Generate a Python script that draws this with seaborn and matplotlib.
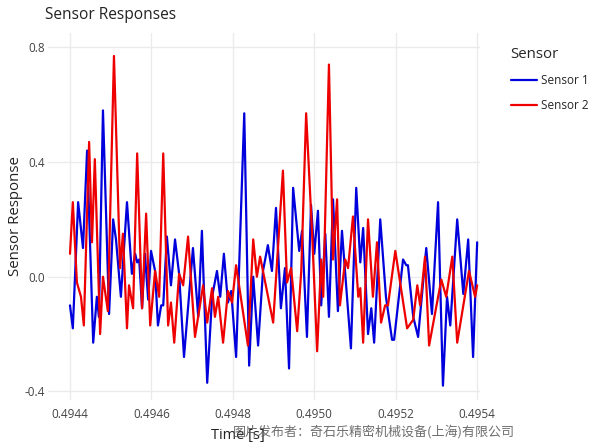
import numpy as np
import matplotlib
matplotlib.use("Agg")
import matplotlib.pyplot as plt
import pandas as pd
import seaborn as sns

# time offsets in microseconds after 0.4944 s
t0 = 0.4944
s1_us = [0, 7, 20, 32, 42, 57, 66, 71, 81, 96,
         106, 113, 125, 140, 152, 160, 165, 170, 177, 184,
         192, 199, 209, 216, 224, 229, 238, 248, 258, 268,
         280, 302, 315, 324, 337, 349, 361, 369, 378, 388,
         396, 408, 428, 440, 450, 462, 474, 486, 496, 506,
         518, 528, 538, 548, 563, 570, 582, 592, 600, 609,
         617, 627, 636, 646, 658, 668, 690, 703, 713, 720,
         732, 740, 747, 762, 776, 791, 796, 818, 826, 830,
         843, 855, 875, 889, 904, 916, 926, 934, 951, 966,
         978, 990, 1000]
s1_val = [-0.10, -0.18, 0.26, 0.10, 0.44, -0.23, -0.07, -0.14, 0.58, -0.13,
          0.20, 0.13, -0.07, 0.26, 0.01, 0.08, 0.05, 0.06, -0.11, 0.08,
          -0.08, 0.09, 0.02, -0.17, -0.10, -0.10, 0.14, -0.03, 0.13, 0.01,
          -0.28, 0.10, -0.14, 0.16, -0.37, -0.07, 0.02, -0.07, 0.08, -0.09,
          -0.05, -0.28, 0.57, -0.31, 0.00, -0.24, 0.02, 0.11, 0.02, 0.24,
          -0.11, 0.03, -0.32, 0.31, 0.09, 0.16, -0.21, 0.25, 0.08, 0.23,
          -0.10, 0.15, -0.14, 0.27, -0.12, 0.16, -0.25, 0.31, 0.05, 0.17,
          -0.20, -0.11, -0.23, 0.20, -0.07, -0.22, -0.22, 0.06, 0.04, 0.04,
          -0.14, -0.21, 0.10, -0.13, 0.26, -0.38, -0.07, -0.17, 0.20, -0.06,
          0.13, -0.28, 0.12]

s2_us = [0, 7, 17, 27, 34, 47, 54, 61, 74, 81,
         93, 108, 123, 130, 140, 145, 155, 165, 177, 187,
         197, 209, 219, 229, 241, 248, 256, 268, 278, 290,
         307, 327, 337, 349, 356, 364, 376, 388, 398, 408,
         437, 450, 459, 467, 499, 523, 533, 543, 558, 568,
         580, 595, 607, 617, 622, 636, 646, 656, 663, 676,
         683, 695, 708, 713, 720, 732, 744, 754, 764, 774,
         781, 799, 828, 843, 853, 860, 872, 882, 912, 924,
         939, 951, 980, 995, 1000]
s2_val = [0.08, 0.26, -0.02, -0.07, -0.17, 0.47, 0.12, 0.41, -0.20, 0.00,
          -0.12, 0.77, 0.03, 0.15, -0.18, -0.03, -0.11, 0.43, -0.11, 0.22,
          -0.17, 0.02, -0.07, 0.43, -0.17, -0.09, -0.23, 0.01, -0.03, 0.14,
          -0.21, -0.03, -0.16, -0.04, -0.14, -0.07, -0.23, -0.05, -0.09, 0.04,
          -0.24, 0.13, 0.00, 0.07, -0.16, 0.37, -0.02, 0.03, -0.19, 0.02,
          0.57, 0.14, -0.26, 0.06, -0.07, 0.74, 0.06, 0.27, -0.10, 0.06,
          0.03, 0.21, -0.07, -0.04, -0.23, 0.20, -0.07, 0.12, -0.16, -0.10,
          -0.10, 0.09, -0.18, -0.15, -0.03, -0.10, 0.07, -0.24, -0.01, -0.07,
          0.07, -0.23, 0.02, -0.07, -0.03]

xticks = [0.4944, 0.4946, 0.4948, 0.4950, 0.4952, 0.4954]
yticks = [-0.4, 0.0, 0.4, 0.8]

df = pd.concat([
    pd.DataFrame({"Time": t0 + np.array(s1_us) * 1e-6, "Response": s1_val, "Sensor": "Sensor 1"}),
    pd.DataFrame({"Time": t0 + np.array(s2_us) * 1e-6, "Response": s2_val, "Sensor": "Sensor 2"}),
])

sns.set_theme(style="white")
plt.rcParams["font.family"] = ["Open Sans", "DejaVu Sans"]

fig = plt.figure(figsize=(6, 4.44), dpi=100)
ax = fig.add_axes([48 / 600, 1 - 400 / 444, 432 / 600, 367 / 444])

sns.lineplot(data=df, x="Time", y="Response", hue="Sensor",
             palette={"Sensor 1": "#0000dd", "Sensor 2": "#ee0000"},
             linewidth=1.6, ax=ax, sort=False, estimator=None)

ax.set_xlim(0.494346, 0.495407)
ax.set_ylim(-0.43, 0.85)
ax.set_xticks(xticks)
ax.set_xticklabels([f"{v:.4f}" for v in xticks])
ax.set_yticks(yticks)
ax.set_yticklabels([f"{v:.1f}" for v in yticks])
ax.grid(True, color="#ebebeb", linewidth=1)
for s in ax.spines.values():
    s.set_visible(False)
ax.tick_params(axis="x", length=0, labelsize=8.5, labelcolor="#444444", pad=6)
ax.tick_params(axis="y", length=0, labelsize=8.5, labelcolor="#444444", pad=2)

ax.set_xlabel("Time [s]", fontsize=10.5, color="#222222")
ax.xaxis.set_label_coords((238 - 48) / 432, -0.075)
ax.set_ylabel("Sensor Response", fontsize=10.8, color="#222222")
ax.yaxis.set_label_coords(-0.058, 0.5)

fig.text(45 / 600, 1 - 15 / 444, "Sensor Responses", fontsize=11.2, color="#222222",
         va="center", ha="left")

leg = ax.legend(title="Sensor", loc="upper left", bbox_to_anchor=(500 / 600, 1 - 36 / 444),
                bbox_transform=fig.transFigure, frameon=False, fontsize=8.5,
                title_fontsize=10.8, handlelength=2.2, handletextpad=0.4,
                labelspacing=1.05)
leg._legend_box.align = "left"

fig.text(233 / 600, 1 - 432 / 444, "图片发布者：奇石乐精密机械设备(上海)有限公司",
         fontsize=9.4, color="#555555", alpha=0.85, va="center", ha="left",
         family=["Noto Sans CJK SC", "DejaVu Sans"])

fig.savefig("out.png", dpi=100)
